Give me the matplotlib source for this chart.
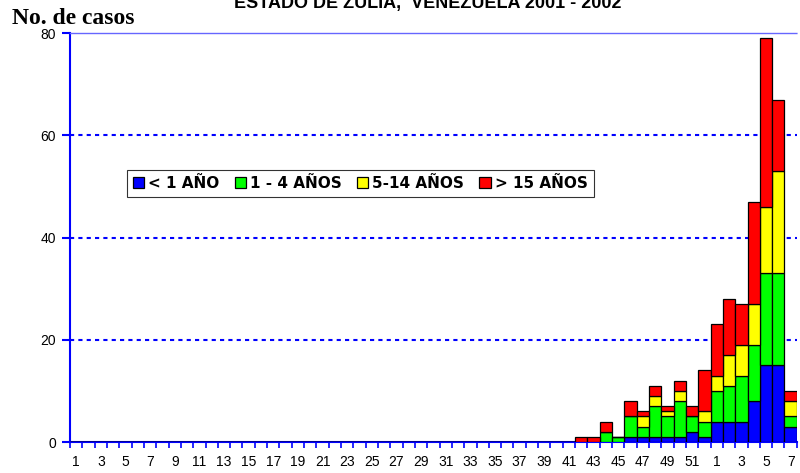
import numpy as np
import matplotlib.pyplot as plt

# epidemiological weeks: 2001 (1-52) then 2002 (1-7)
weeks = list(range(1, 53)) + list(range(1, 8))

zeros = [0] * 41
menor_1 = zeros + [0, 0, 0, 0, 1, 1, 1, 1, 1, 2, 1] + [4, 4, 4, 8, 15, 15, 3]
de_1_4 = zeros + [0, 0, 2, 1, 4, 2, 6, 4, 7, 3, 3] + [6, 7, 9, 11, 18, 18, 2]
de_5_14 = zeros + [0, 0, 0, 0, 0, 2, 2, 1, 2, 0, 2] + [3, 6, 6, 8, 13, 20, 3]
mayor_15 = zeros + [1, 1, 2, 0, 3, 1, 2, 1, 2, 2, 8] + [10, 11, 8, 20, 33, 14, 2]

series = [menor_1, de_1_4, de_5_14, mayor_15]
labels = ["< 1 AÑO", "1 - 4 AÑOS", "5-14 AÑOS", "> 15 AÑOS"]
colors = ["#0000FF", "#00FF00", "#FFFF00", "#FF0000"]

fig = plt.figure(figsize=(8, 4.73), dpi=100)
ax = fig.add_axes([0.0875, 0.0655, 0.9085, 0.8645])

x = np.arange(len(weeks))
bottom = np.zeros(len(weeks))
for vals, lab, col in zip(series, labels, colors):
    vals = np.array(vals)
    ax.bar(x, vals, width=1.0, bottom=bottom, color=col, edgecolor="black",
           linewidth=0.9, label=lab, zorder=3)
    bottom += vals

ax.set_xlim(-0.5, len(weeks) - 0.5)
ax.set_ylim(0, 80)

# grid lines
for yv in [20, 40, 60]:
    ax.axhline(yv, color="#0000FF", linestyle=(0, (2, 2)), linewidth=1.5, zorder=1)

ax.spines["right"].set_visible(False)
ax.spines["top"].set_color("#6666FF")
ax.spines["top"].set_linestyle((0, (3, 1)))
ax.spines["top"].set_linewidth(1.0)
ax.spines["left"].set_color("#0000FF")
ax.spines["left"].set_linewidth(1.5)
ax.spines["bottom"].set_color("#0000FF")
ax.spines["bottom"].set_linewidth(1.5)

ax.set_yticks([0, 20, 40, 60, 80])
ax.tick_params(axis="y", colors="#0000FF", labelcolor="black", length=6,
               width=1.5, labelsize=10, pad=4)

# minor ticks at category boundaries, labels every other week
ax.set_xticks(np.arange(-0.5, len(weeks) + 0.5, 1.0), minor=True)
ax.set_xticks(x[::2])
ax.set_xticklabels([str(w) for w in weeks[::2]])
ax.tick_params(axis="x", which="major", length=0, labelsize=10, pad=9)
ax.tick_params(axis="x", which="minor", colors="#0000FF", length=4, width=1.2)

for t in ax.get_xticklabels() + ax.get_yticklabels():
    t.set_fontfamily("Liberation Sans")

leg = ax.legend(loc="upper left", bbox_to_anchor=(0.078, 0.665), ncol=4,
                frameon=True, fancybox=False, edgecolor="black",
                prop={"family": "DejaVu Sans", "weight": "bold", "size": 11},
                handlelength=0.75, handleheight=0.75, handletextpad=0.25,
                columnspacing=1.0, borderpad=0.4, borderaxespad=0)
leg.get_frame().set_linewidth(0.8)

fig.text(0.015, 0.949, "No. de casos", family="Liberation Serif",
         weight="bold", fontsize=17, va="baseline")
fig.text(0.535, 0.983, "ESTADO DE ZULIA,  VENEZUELA 2001 - 2002",
         family="Liberation Sans", weight="bold", fontsize=13, ha="center",
         va="baseline")

fig.savefig("out.png", dpi=100)
